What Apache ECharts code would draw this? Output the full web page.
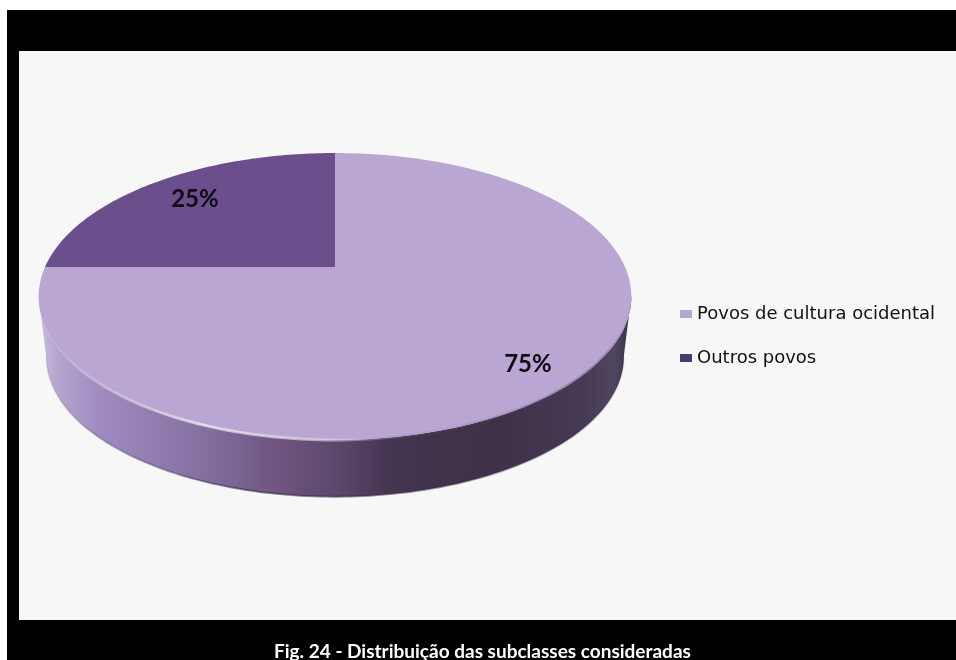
<!DOCTYPE html>
<html><head><meta charset="utf-8">
<style>html,body{margin:0;padding:0;background:#fff}#c{width:956px;height:660px}</style>
<script src="https://cdn.jsdelivr.net/npm/echarts@6/dist/echarts.min.js"></script>
</head><body><div id="c"></div>
<script>
const categories = ['Povos de cultura ocidental', 'Outros povos'];
const values = [75, 25];
const sliceColors = ['#b9a6d2', '#6b4f8d'];
const legendColors = ['#b5a8cf', '#4a3a72'];
const labelRadius = [0.847, 0.77];
const labelTurn = [1.7, 0.7];
const captionText = 'Fig. 24 - Distribuição das subclasses consideradas';

// Perspective view of the disc: turns a point of the unit circle into a screen point.
const view = {cx: 335, apexY: 267, R: 290, a: 137.4, c: -0.2056};
function project(r, deg, shrink, drop) {
  const t = deg * Math.PI / 180, u = r * Math.sin(t), v = -r * Math.cos(t);
  const w = 1 + view.c * v;
  const s = shrink === undefined ? 1 : shrink, d = drop || 0;
  return [view.cx + s * view.R * u / w, view.apexY + s * (view.a * v) / w + d];
}
function arc(from, to, shrink, drop) {
  const pts = [], n = Math.max(2, Math.ceil(Math.abs(to - from)));
  for (let i = 0; i <= n; i++) pts.push(project(1, from + (to - from) * i / n, shrink, drop));
  return pts;
}
const total = values.reduce((a, b) => a + b, 0);
const sideShrink = 0.975, sideDrop = 61, visFrom = 101.5, visTo = 258.5;

const sideStops = [[0,'#cbbfe0'],[0.03,'#b5a6cf'],[0.1,'#a08cc0'],[0.22,'#8e79ac'],[0.31,'#7d6a9a'],
  [0.4,'#705580'],[0.49,'#5e4a70'],[0.6,'#43344f'],[0.78,'#3f3149'],[0.92,'#463a54'],[0.97,'#50455f'],[1,'#37304a']];
function hGrad(stops) {
  return {type: 'linear', x: 38, y: 0, x2: 632, y2: 0, global: true,
    colorStops: stops.map(s => ({offset: s[0], color: s[1]}))};
}
const rimStops = [[0,'rgba(190,175,215,0)'],[0.06,'rgba(205,195,225,0.4)'],[0.28,'rgba(240,235,245,0.75)'],
  [0.5,'rgba(225,215,235,0.6)'],[0.65,'rgba(120,100,150,0.12)'],[0.95,'rgba(70,60,90,0.35)'],[1,'rgba(70,60,90,0)']];
const edgeStops = [[0,'rgba(90,75,120,0)'],[0.08,'rgba(90,75,120,0.3)'],[0.35,'rgba(50,40,65,0.6)'],
  [0.9,'rgba(50,40,65,0.4)'],[1,'rgba(50,40,65,0)']];
function renderSlice(idx) {
  return function () {
    const start = values.slice(0, idx).reduce((a, b) => a + b, 0) / total * 360;
    const end = start + values[idx] / total * 360;
    const children = [];
    const a0 = Math.max(start, visFrom), a1 = Math.min(end, visTo);
    if (a1 > a0) {
      const pts = arc(a0, a1, sideShrink, sideDrop).concat(arc(a1, a0));
      children.push({type: 'polygon', shape: {points: pts}, style: {fill: hGrad(sideStops)}});
      children.push({type: 'polyline', shape: {points: arc(a0, a1, sideShrink, sideDrop)},
        style: {fill: null, lineWidth: 2, stroke: hGrad(edgeStops)}});
    }
    const top = [project(0, 0)].concat(arc(start, end));
    children.push({type: 'polygon', shape: {points: top}, style: {fill: sliceColors[idx]}});
    if (a1 > a0) {
      children.push({type: 'polyline', shape: {points: arc(a0, a1)}, style: {fill: null, lineWidth: 3,
        stroke: hGrad(rimStops)}});
    }
    const p = project(labelRadius[idx], (start + end) / 2 + labelTurn[idx]);
    children.push({type: 'text', style: {text: Math.round(values[idx] / total * 100) + '%', x: p[0], y: p[1],
      align: 'center', verticalAlign: 'middle', fill: '#0d0a14', font: 'bold 24px Lato'}});
    return {type: 'group', children};
  };
}
const chart = echarts.init(document.getElementById('c'), null, {renderer: 'canvas'});
chart.setOption({
  animation: false,
  backgroundColor: '#ffffff',
  title: {text: captionText, left: 274, top: 642, padding: 0,
    textStyle: {color: '#ffffff', fontFamily: 'Lato', fontWeight: 'bold', fontSize: 19}},
  legend: {orient: 'vertical', left: 680, top: 305, padding: 0, itemGap: 26, itemWidth: 12, itemHeight: 8, icon: 'rect',
    textStyle: {fontFamily: 'DejaVu Sans', fontSize: 18, color: '#111111'},
    data: categories.map((n, i) => ({name: n, itemStyle: {color: legendColors[i]}}))},
  graphic: [
    {type: 'rect', z: -2, silent: true, shape: {x: 7, y: 10, width: 949, height: 650}, style: {fill: '#000000'}},
    {type: 'rect', z: -1, silent: true, shape: {x: 19, y: 51, width: 937, height: 569}, style: {fill: '#f7f7f7'}}
  ],
  series: categories.map((n, i) => ({
    type: 'custom', name: n, coordinateSystem: 'none', silent: true,
    itemStyle: {color: sliceColors[i]},
    renderItem: renderSlice(i), data: [[values[i]]]
  }))
});
</script></body></html>
